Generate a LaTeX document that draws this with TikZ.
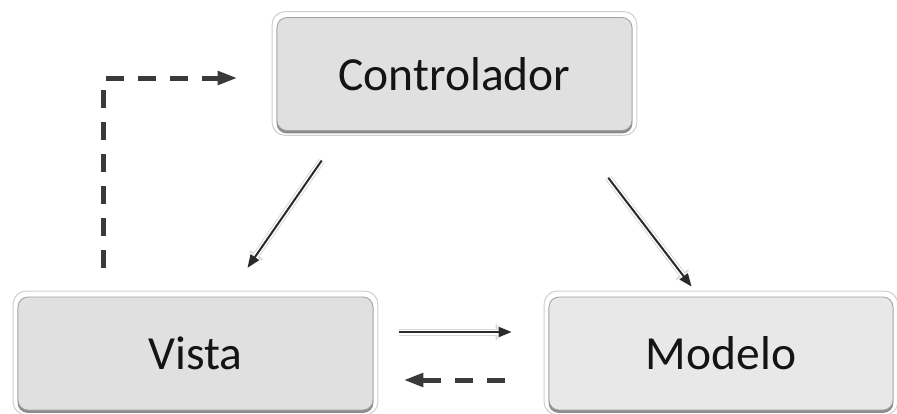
\documentclass[tikz,border=0pt]{standalone}
\usepackage{fontspec}
\setmainfont{Carlito}
\usetikzlibrary{arrows.meta,calc,backgrounds}
\definecolor{boxfill}{HTML}{E0E0E0}
\definecolor{boxfilltwo}{HTML}{E8E8E8}
\definecolor{boxline}{HTML}{A0A0A0}
\definecolor{haloline}{HTML}{CFCFCF}
\definecolor{textcol}{HTML}{141414}
\definecolor{dashcol}{HTML}{3A3A3A}
\definecolor{arrowcol}{HTML}{2A2A2A}
\begin{document}
\begin{tikzpicture}[x=1pt,y=-1pt,
  box/.style={rounded corners=10pt, fill=boxfill, draw=boxline, line width=0.8pt,
    minimum height=113pt, inner sep=0pt, text=textcol,
    font=\fontsize{47.5}{56}\selectfont},
  halo/.style={rounded corners=13pt, draw=haloline, fill=white, line width=1pt},
  boxshadow/.style={rounded corners=10pt, fill=black!45},
  thinarrow/.style={draw=arrowcol, line width=2pt,
    -{Triangle[length=13pt,width=10pt]},
    preaction={draw=black!15, line width=7pt, -{Triangle[length=16pt,width=15pt]}},
    preaction={draw=white, line width=5pt, -{Triangle[length=14pt,width=13pt]}}},
  dasharrow/.style={draw=dashcol, line width=5pt, dash pattern=on 18pt off 14pt,
    -{Triangle[length=20pt,width=13pt]}}
]
\useasboundingbox (0,0) rectangle (897,413);

% the three components
\node[box, minimum width=355pt] (ctrl) at (454.5,74) {Controlador};
\node[box, minimum width=355pt] (vista) at (195.5,353.5) {Vista};
\node[box, minimum width=344pt, fill=boxfilltwo] (modelo) at (721,353.5) {Modelo};

% raised frame and bottom shade behind each box
\begin{scope}[on background layer]
  \foreach \n in {ctrl,vista,modelo}{
    \draw[halo] ([shift={(-4.5,-5.5)}]\n.north west) rectangle ([shift={(4.5,4.5)}]\n.south east);
    \fill[boxshadow] ([shift={(0,2)}]\n.north west) rectangle ([shift={(0,2.5)}]\n.south east);
  }
\end{scope}

% controller updates view and model
\draw[thinarrow, shorten <=36pt, shorten >=35pt]
  ([xshift=65.6pt]ctrl.south west) -- ([xshift=210pt]vista.north west);
\draw[thinarrow, shorten <=59pt, shorten >=12.6pt]
  ([xshift=-60pt]ctrl.south east) -- ([xshift=150.6pt]modelo.north west);

% view <-> model
\draw[thinarrow, shorten <=26pt, shorten >=37pt]
  ([yshift=21.5pt]vista.east) -- ([yshift=21.5pt]vista.east -| modelo.west);
\draw[dasharrow, shorten <=44pt, shorten >=30pt]
  ([yshift=-26.5pt]modelo.west) -- ([yshift=-26.5pt]modelo.west -| vista.east);

% view notifies controller
\draw[dasharrow, shorten <=29pt, shorten >=39pt]
  ([xshift=86pt]vista.north west) |- ([yshift=-4pt]ctrl.west);
\end{tikzpicture}
\end{document}
